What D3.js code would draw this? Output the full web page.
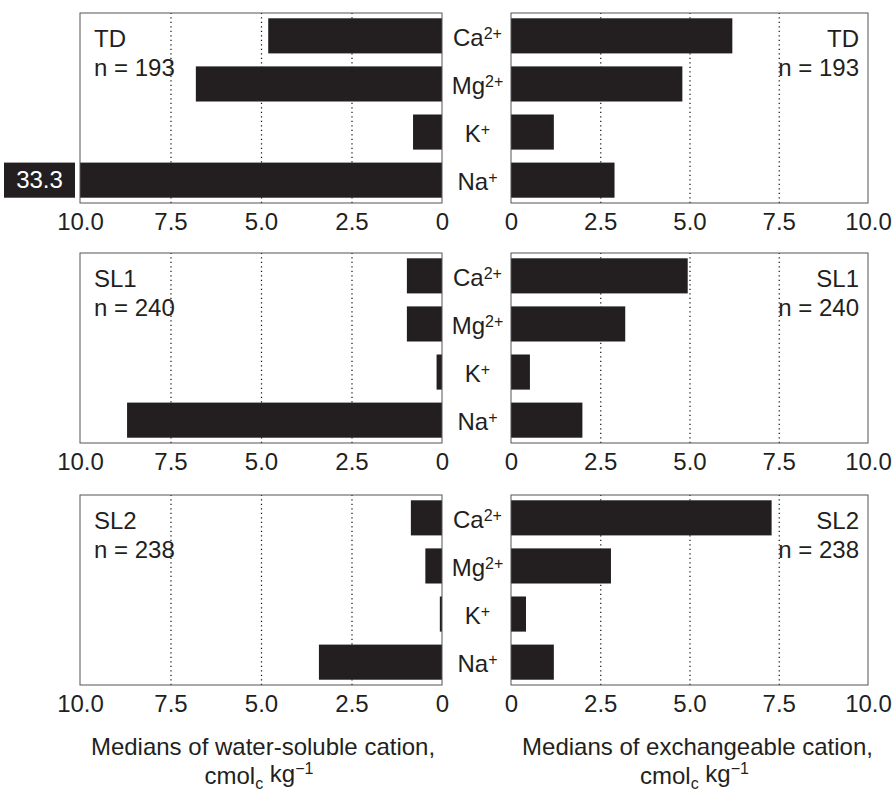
<!DOCTYPE html>
<html>
<head>
<meta charset="utf-8">
<script src="https://cdn.jsdelivr.net/npm/d3@7"></script>
<style>
  body { margin: 0; background: #fff; }
  svg text { font-family: "Liberation Sans", Arial, Helvetica, sans-serif; fill: #231f20; }
</style>
</head>
<body>
<svg id="chart"></svg>
<script>
var width = 894;
var height = 791;

// cations and their charges (drawn as superscripts)
var ions = ["Ca", "Mg", "K", "Na"];
var charges = ["2+", "2+", "+", "+"];

// sites and sample counts
var sites = ["TD", "SL1", "SL2"];
var nValues = [193, 240, 238];

// medians, cmolc/kg, one row per site, columns follow ions
var waterSoluble = [
  [4.8, 6.8, 0.8, 33.3],
  [0.97, 0.97, 0.15, 8.7],
  [0.86, 0.46, 0.06, 3.4]
];
var exchangeable = [
  [6.2, 4.8, 1.2, 2.9],
  [4.95, 3.2, 0.53, 2.0],
  [7.3, 2.8, 0.42, 1.2]
];

var tickValues = [0, 2.5, 5, 7.5, 10];
var gridValues = [2.5, 5, 7.5];

var panelTops = [13, 253, 495];
var panelHeight = 190;
var leftRange = [80, 442];
var rightRange = [511, 868];
var barColor = "#231f20";
var fontSize = 24;
var supSize = 16;

var svg = d3.select("#chart")
    .attr("width", width)
    .attr("height", height);

// left panels run from 10 down to 0, right panels from 0 up to 10
var xLeft = d3.scaleLinear().domain([10, 0]).range(leftRange).clamp(true);
var xRight = d3.scaleLinear().domain([0, 10]).range(rightRange).clamp(true);

var yScale = d3.scaleBand()
    .domain(ions)
    .range([0, panelHeight])
    .paddingInner(0.27)
    .paddingOuter(0.11);

var fmt = d => d === 0 ? "0" : d3.format(".1f")(d);

function drawPanel(g, x, values, site, n, labelSide) {
  var r = x.range();
  var x0 = Math.min(r[0], r[1]);
  var x1 = Math.max(r[0], r[1]);

  // dotted gridlines
  g.append("g")
      .attr("transform", `translate(0,${panelHeight})`)
      .call(d3.axisBottom(x).tickValues(gridValues).tickSize(-panelHeight).tickFormat(""))
      .call(a => a.select(".domain").remove())
      .call(a => a.selectAll(".tick line")
          .attr("stroke", "#111")
          .attr("stroke-width", 1.2)
          .attr("stroke-dasharray", "1.3,3.2"));

  // bars, anchored at zero
  g.selectAll("rect.bar")
    .data(values)
    .enter()
    .append("rect")
      .attr("class", "bar")
      .attr("x", d => Math.min(x(0), x(d)))
      .attr("y", (d, i) => yScale(ions[i]))
      .attr("width", d => Math.abs(x(d) - x(0)))
      .attr("height", yScale.bandwidth())
      .attr("fill", barColor);

  // frame
  g.append("rect")
      .attr("x", x0)
      .attr("y", 0)
      .attr("width", x1 - x0)
      .attr("height", panelHeight)
      .attr("fill", "none")
      .attr("stroke", "#555")
      .attr("stroke-width", 1);

  // tick labels
  g.append("g")
      .attr("transform", `translate(0,${panelHeight})`)
      .call(d3.axisBottom(x).tickValues(tickValues).tickSize(0).tickPadding(10).tickFormat(fmt))
      .call(a => a.select(".domain").remove())
      .call(a => a.selectAll("text")
          .style("font-size", fontSize + "px")
          .style("font-family", '"Liberation Sans", Arial, sans-serif')
          .attr("fill", "#231f20"));

  // site name and n
  var tx = labelSide === "left" ? x0 + 14 : x1 - 9;
  var anchor = labelSide === "left" ? "start" : "end";
  g.append("text")
      .attr("x", tx)
      .attr("y", 34)
      .style("text-anchor", anchor)
      .style("font-size", fontSize + "px")
      .text(site);
  g.append("text")
      .attr("x", tx)
      .attr("y", 63)
      .style("text-anchor", anchor)
      .style("font-size", fontSize + "px")
      .text("n = " + n);

  // values running past the axis get a boxed label
  values.forEach(function(v, i) {
    if (v > x.domain()[0] && labelSide === "left") {
      var by = yScale(ions[i]);
      g.append("rect")
          .attr("x", 4)
          .attr("y", by)
          .attr("width", x0 - 9)
          .attr("height", yScale.bandwidth())
          .attr("fill", barColor);
      g.append("text")
          .attr("x", (4 + x0 - 5) / 2)
          .attr("y", by + yScale.bandwidth() / 2 + 8)
          .style("text-anchor", "middle")
          .style("font-size", fontSize + "px")
          .style("fill", "#fff")
          .text(v.toFixed(1));
    }
  });
}

sites.forEach(function(site, s) {
  var gl = svg.append("g").attr("transform", `translate(0,${panelTops[s]})`);
  drawPanel(gl, xLeft, waterSoluble[s], site, nValues[s], "left");

  var gr = svg.append("g").attr("transform", `translate(0,${panelTops[s]})`);
  drawPanel(gr, xRight, exchangeable[s], site, nValues[s], "right");

  // cation names between the two panels
  var labelX = (leftRange[1] + rightRange[0]) / 2 + 1;
  ions.forEach(function(ion, i) {
    var t = gr.append("text")
        .attr("x", labelX)
        .attr("y", yScale(ion) + yScale.bandwidth() / 2 + 10)
        .style("text-anchor", "middle")
        .style("font-size", fontSize + "px");
    t.append("tspan").text(ion);
    t.append("tspan")
        .attr("dy", "-0.45em")
        .style("font-size", supSize + "px")
        .text(charges[i]);
  });
});

// axis titles
function unitLine(cx, y) {
  var t = svg.append("text")
      .attr("x", cx)
      .attr("y", y)
      .style("text-anchor", "middle")
      .style("font-size", fontSize + "px");
  t.append("tspan").text("cmol");
  t.append("tspan").attr("dy", "0.3em").style("font-size", supSize + "px").text("c");
  t.append("tspan").attr("dy", "-0.3em").text(" kg");
  t.append("tspan").attr("dy", "-0.45em").style("font-size", supSize + "px").text("\u22121");
}

var leftCenter = (leftRange[0] + leftRange[1]) / 2;
var rightCenter = (rightRange[0] + rightRange[1]) / 2 + 5;

svg.append("text")
    .attr("x", leftCenter + 2)
    .attr("y", 755)
    .style("text-anchor", "middle")
    .style("font-size", fontSize + "px")
    .text("Medians of water-soluble cation,");
unitLine(leftCenter - 2, 784);

svg.append("text")
    .attr("x", rightCenter + 3)
    .attr("y", 755)
    .style("text-anchor", "middle")
    .style("font-size", fontSize + "px")
    .text("Medians of exchangeable cation,");
unitLine(rightCenter, 784);
</script>
</body>
</html>
